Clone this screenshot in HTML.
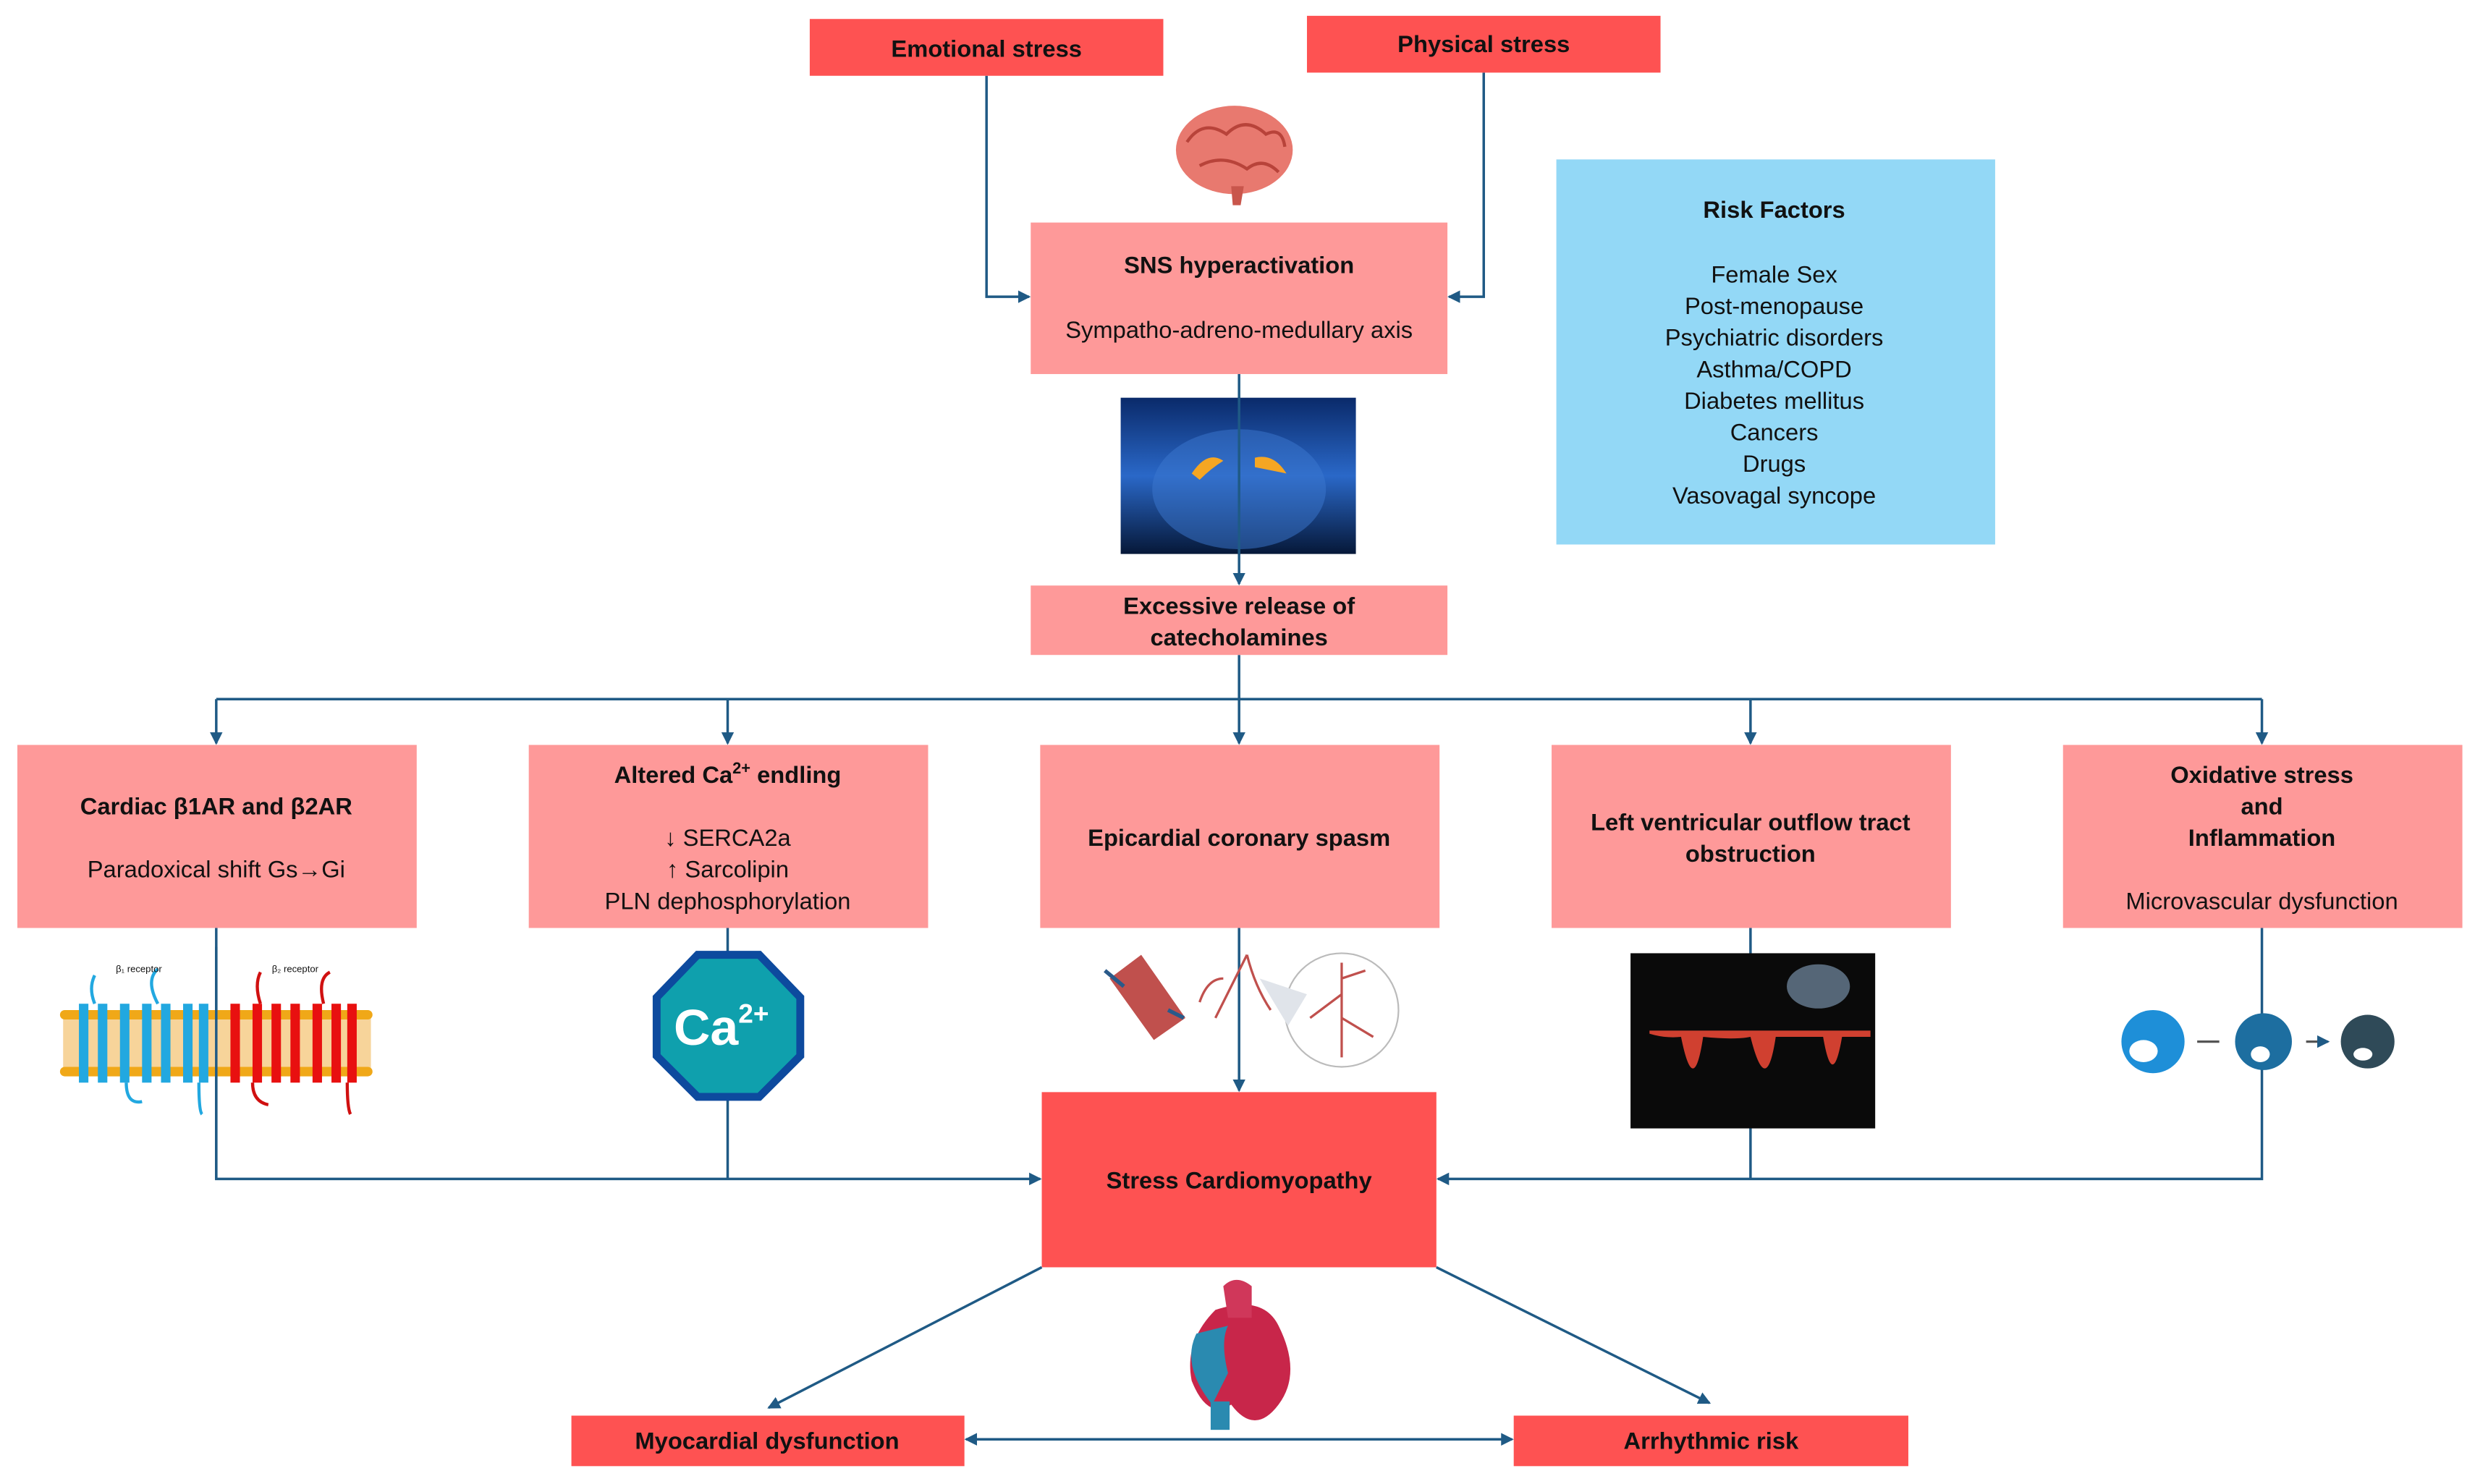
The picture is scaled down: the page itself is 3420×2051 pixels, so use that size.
<!DOCTYPE html>
<html><head><meta charset="utf-8"><style>
html,body{margin:0;padding:0;background:#fff;}
svg{display:block;}
text{font-family:"Liberation Sans",sans-serif;fill:#111;}
.b{font-weight:bold;font-size:15px;}
.r{font-size:15px;}
</style></head><body>
<svg width="3420" height="2051" viewBox="0 0 1568 940.3" xmlns="http://www.w3.org/2000/svg">
<defs>
<marker id="a" markerWidth="8" markerHeight="8" refX="7" refY="4" orient="auto" markerUnits="userSpaceOnUse"><path d="M0,0 L8,4 L0,8 z" fill="#1f5a85"/></marker>
<marker id="s" markerWidth="8" markerHeight="8" refX="1" refY="4" orient="auto" markerUnits="userSpaceOnUse"><path d="M8,0 L0,4 L8,8 z" fill="#1f5a85"/></marker>
<linearGradient id="g" x1="0" y1="0" x2="0" y2="1"><stop offset="0" stop-color="#0a2a6a"/><stop offset="0.5" stop-color="#2a68c8"/><stop offset="1" stop-color="#061838"/></linearGradient>
</defs>
<g stroke="#1f5a85" stroke-width="1.6" fill="none">
<polyline points="625,48 625,188 652,188" marker-end="url(#a)"/>
<polyline points="940,46 940,188 918,188" marker-end="url(#a)"/>
<line x1="785" y1="237" x2="785" y2="370" marker-end="url(#a)"/>
<line x1="785" y1="415" x2="785" y2="443"/>
<line x1="137" y1="443" x2="1433" y2="443"/>
<line x1="137" y1="443" x2="137" y2="471" marker-end="url(#a)"/>
<line x1="461" y1="443" x2="461" y2="471" marker-end="url(#a)"/>
<line x1="785" y1="443" x2="785" y2="471" marker-end="url(#a)"/>
<line x1="1109" y1="443" x2="1109" y2="471" marker-end="url(#a)"/>
<line x1="1433" y1="443" x2="1433" y2="471" marker-end="url(#a)"/>
<polyline points="137,588 137,747 659,747" marker-end="url(#a)"/>
<line x1="461" y1="588" x2="461" y2="747"/>
<line x1="785" y1="588" x2="785" y2="691" marker-end="url(#a)"/>
<polyline points="1433,588 1433,747 911,747" marker-end="url(#a)"/>
<line x1="1109" y1="588" x2="1109" y2="747"/>
<line x1="660" y1="803" x2="487" y2="892" marker-end="url(#a)"/>
<line x1="910" y1="803" x2="1083" y2="889" marker-end="url(#a)"/>
<line x1="612" y1="912" x2="958" y2="912" marker-start="url(#s)" marker-end="url(#a)"/>
</g>
<!-- top boxes -->
<rect x="513" y="12" width="224" height="36" fill="#fe5252"/>
<text class="b" x="625" y="36" text-anchor="middle">Emotional stress</text>
<rect x="828" y="10" width="224" height="36" fill="#fe5252"/>
<text class="b" x="940" y="33" text-anchor="middle">Physical stress</text>
<!-- brain -->
<ellipse cx="782" cy="95" rx="37" ry="28" fill="#e8796f"/>
<path d="M752,90 q10,-15 25,-5 q12,-12 25,0 q10,-5 12,8 M760,105 q15,-8 30,2 q10,-8 20,2" stroke="#b8433a" fill="none" stroke-width="2"/>
<path d="M780,118 l8,0 l-2,12 l-5,0 z" fill="#c9564c"/>
<rect x="653" y="141" width="264" height="96" fill="#fe9999"/>
<text class="b" x="785" y="173" text-anchor="middle">SNS hyperactivation</text>
<text class="r" x="785" y="214" text-anchor="middle">Sympatho-adreno-medullary axis</text>
<!-- risk -->
<rect x="986" y="101" width="278" height="244" fill="#93d8f6"/>
<text class="b" x="1124" y="138" text-anchor="middle">Risk Factors</text>
<g class="r" text-anchor="middle"><text class="r" x="1124" y="179">Female Sex</text><text class="r" x="1124" y="199">Post-menopause</text><text class="r" x="1124" y="219">Psychiatric disorders</text><text class="r" x="1124" y="239">Asthma/COPD</text><text class="r" x="1124" y="259">Diabetes mellitus</text><text class="r" x="1124" y="279">Cancers</text><text class="r" x="1124" y="299">Drugs</text><text class="r" x="1124" y="319">Vasovagal syncope</text></g>
<!-- adrenal -->
<rect x="710" y="252" width="149" height="99" fill="url(#g)"/>
<ellipse cx="785" cy="310" rx="55" ry="38" fill="#3c78d0" opacity="0.5"/>
<path d="M755,300 q10,-15 20,-8 q-8,5 -15,12z M795,290 q12,-3 20,10 q-10,-2 -20,-4z" fill="#f5a623"/>
<line x1="785" y1="252" x2="785" y2="351" stroke="#1f5a85" stroke-width="1.6"/>
<rect x="653" y="371" width="264" height="44" fill="#fe9999"/>
<text class="b" x="785" y="389" text-anchor="middle">Excessive release of</text>
<text class="b" x="785" y="409" text-anchor="middle">catecholamines</text>
<!-- five boxes -->
<rect x="11" y="472" width="253" height="116" fill="#fe9999"/>
<text class="b" x="137" y="516" text-anchor="middle">Cardiac β1AR and β2AR</text>
<text class="r" x="137" y="556" text-anchor="middle">Paradoxical shift  Gs→Gi</text>
<rect x="335" y="472" width="253" height="116" fill="#fe9999"/>
<text class="b" x="461" y="496" text-anchor="middle">Altered Ca<tspan font-size="10" dy="-6">2+</tspan><tspan dy="6"> endling</tspan></text>
<text class="r" x="461" y="536" text-anchor="middle">↓ SERCA2a</text>
<text class="r" x="461" y="556" text-anchor="middle">↑ Sarcolipin</text>
<text class="r" x="461" y="576" text-anchor="middle">PLN dephosphorylation</text>
<rect x="659" y="472" width="253" height="116" fill="#fe9999"/>
<text class="b" x="785" y="536" text-anchor="middle">Epicardial coronary spasm</text>
<rect x="983" y="472" width="253" height="116" fill="#fe9999"/>
<text class="b" x="1109" y="526" text-anchor="middle">Left ventricular outflow tract</text>
<text class="b" x="1109" y="546" text-anchor="middle">obstruction</text>
<rect x="1307" y="472" width="253" height="116" fill="#fe9999"/>
<text class="b" x="1433" y="496" text-anchor="middle">Oxidative stress</text>
<text class="b" x="1433" y="516" text-anchor="middle">and</text>
<text class="b" x="1433" y="536" text-anchor="middle">Inflammation</text>
<text class="r" x="1433" y="576" text-anchor="middle">Microvascular dysfunction</text>
<!-- receptor -->
<rect x="40" y="644" width="195" height="36" fill="#f7d49a"/>
<g fill="#f0a818"><rect x="38" y="640" width="198" height="6" rx="3"/><rect x="38" y="676" width="198" height="6" rx="3"/></g>
<g fill="#22a8e0"><rect x="50" y="636" width="6" height="50"/><rect x="62" y="636" width="6" height="50"/><rect x="76" y="636" width="6" height="50"/><rect x="90" y="636" width="6" height="50"/><rect x="102" y="636" width="6" height="50"/><rect x="116" y="636" width="6" height="50"/><rect x="126" y="636" width="6" height="50"/></g>
<g fill="#e81010"><rect x="146" y="636" width="6" height="50"/><rect x="160" y="636" width="6" height="50"/><rect x="172" y="636" width="6" height="50"/><rect x="184" y="636" width="6" height="50"/><rect x="198" y="636" width="6" height="50"/><rect x="210" y="636" width="6" height="50"/><rect x="220" y="636" width="6" height="50"/></g>
<path d="M60,636 q-4,-10 0,-18 M100,636 q-8,-15 0,-22 M80,686 q0,14 10,12 M126,686 q0,18 2,20" stroke="#22a8e0" fill="none" stroke-width="2"/>
<path d="M165,636 q-4,-12 0,-20 M205,636 q-4,-16 4,-20 M160,686 q0,12 10,14 M220,686 q0,16 2,20" stroke="#d01010" fill="none" stroke-width="2"/>
<text x="88" y="616" font-size="6" fill="#888" text-anchor="middle">β₁ receptor</text>
<text x="187" y="616" font-size="6" fill="#888" text-anchor="middle">β₂ receptor</text>
<line x1="137" y1="600" x2="137" y2="747" stroke="#1f5a85" stroke-width="1.6"/>
<!-- Ca octagon -->
<polygon points="442,605 481,605 507,632 507,669 481,695 442,695 416,669 416,632" fill="#0fa0ad" stroke="#0d4a9e" stroke-width="5"/>
<text x="457" y="662" font-size="32" font-weight="bold" fill="#fff" text-anchor="middle" style="fill:#fff">Ca<tspan font-size="17" dy="-14" style="fill:#fff">2+</tspan></text>
<!-- coronary -->
<path d="M703,620 l20,-15 l28,40 l-20,14 z" fill="#c0504d"/>
<path d="M700,615 l12,10 M740,640 l10,5" stroke="#2a5a8a" stroke-width="2.5"/>
<path d="M790,605 q-10,20 -20,40 M790,605 q5,20 15,35 M775,620 q-10,0 -15,15" stroke="#c0504d" fill="none" stroke-width="1.5"/>
<circle cx="850" cy="640" r="36" fill="#fff" stroke="#bbb"/>
<path d="M850,610 l0,60 M850,630 l-20,15 M850,645 l20,12 M850,620 l15,-5" stroke="#c0504d" fill="none" stroke-width="1.5"/>
<path d="M798,620 l18,30 l12,-20z" fill="#e0e4ea"/>
<!-- echo -->
<rect x="1033" y="604" width="155" height="111" fill="#0a0a0a"/>
<path d="M1045,655 q10,3 20,2 q8,40 14,0 q20,2 30,0 q10,40 16,0 q20,0 30,0 q6,35 12,0 l18,0 l0,-4 l-140,0 z" fill="#d04030"/>
<ellipse cx="1152" cy="625" rx="20" ry="14" fill="#556677"/>
<!-- cells -->
<circle cx="1364" cy="660" r="20" fill="#1e8fd8"/><ellipse cx="1358" cy="666" rx="9" ry="7" fill="#fff"/>
<circle cx="1434" cy="660" r="18" fill="#1d6ea0"/><ellipse cx="1432" cy="668" rx="6" ry="5" fill="#fff"/>
<circle cx="1500" cy="660" r="17" fill="#2f4a58"/><ellipse cx="1497" cy="668" rx="6" ry="4" fill="#fff"/>
<path d="M1392,660 l14,0 M1461,660 l14,0" stroke="#555" stroke-width="1.5" marker-end="url(#a)"/>
<!-- stress CM -->
<rect x="660" y="692" width="250" height="111" fill="#fe5252"/>
<text class="b" x="785" y="753" text-anchor="middle">Stress Cardiomyopathy</text>
<!-- heart -->
<path d="M770,830 q-20,20 -15,45 q10,25 25,15 q15,20 30,0 q15,-20 0,-50 q-10,-20 -40,-10z" fill="#c8264a"/>
<path d="M758,845 q-10,20 10,45 l10,-20 q-5,-20 0,-30z" fill="#2a8ab0"/>
<rect x="767" y="888" width="12" height="18" fill="#2a8ab0"/>
<path d="M775,815 q8,-8 18,0 l0,20 l-15,0z" fill="#d0375a"/>
<!-- bottom -->
<rect x="362" y="897" width="249" height="32" fill="#fe5252"/>
<text class="b" x="486" y="918" text-anchor="middle">Myocardial dysfunction</text>
<rect x="959" y="897" width="250" height="32" fill="#fe5252"/>
<text class="b" x="1084" y="918" text-anchor="middle">Arrhythmic risk</text>
</svg>
</body></html>
